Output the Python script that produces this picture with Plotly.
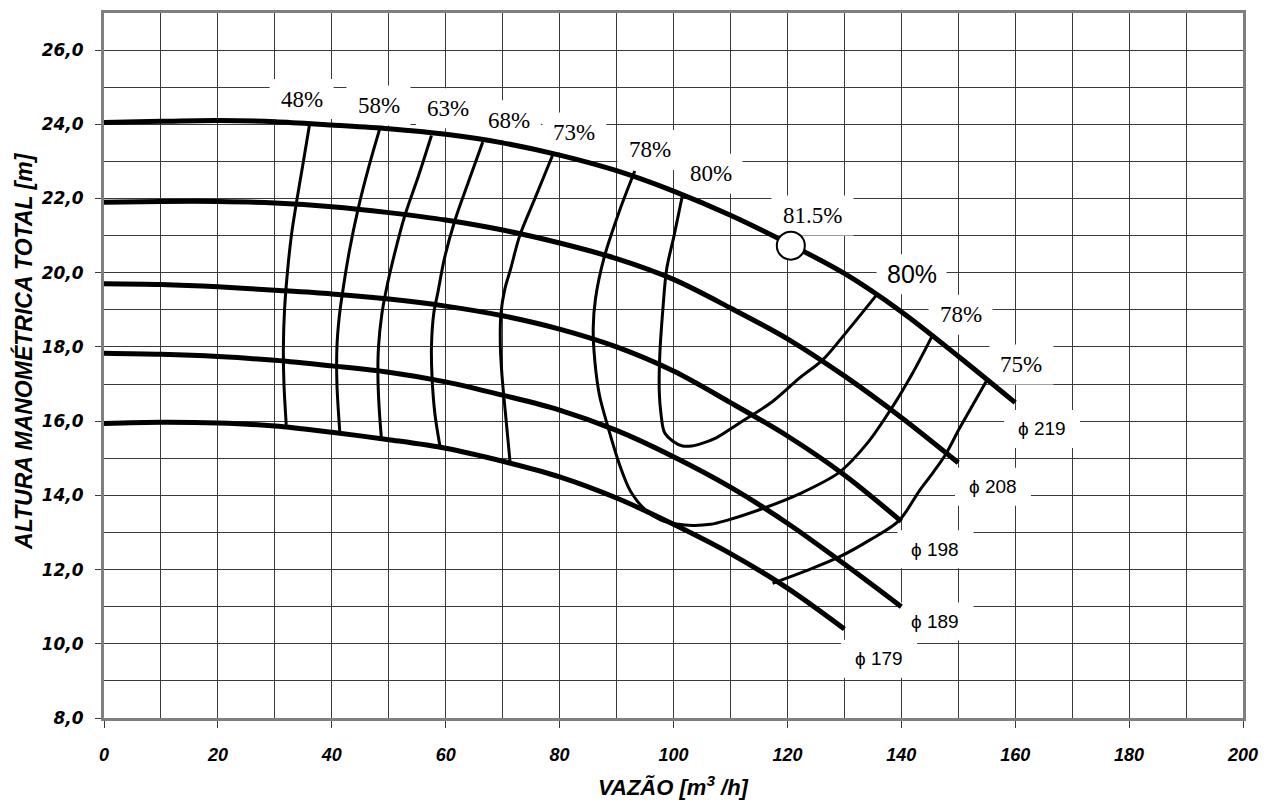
import plotly.graph_objects as go

# ---------------- data ----------------
# Head curves (impeller diameters)
flow_219 = [0, 10, 20, 30, 40, 50, 60, 70, 80, 90, 100, 110, 120, 130, 140, 150, 160]
head_219 = [24.05, 24.08, 24.1, 24.07, 23.98, 23.88, 23.73, 23.5, 23.17, 22.75, 22.2, 21.55, 20.8, 19.98, 18.95, 17.75, 16.5]

flow_208 = [0, 10, 20, 30, 40, 50, 60, 70, 80, 90, 100, 110, 120, 130, 140, 150]
head_208 = [21.9, 21.92, 21.92, 21.88, 21.78, 21.62, 21.42, 21.15, 20.8, 20.38, 19.82, 19.05, 18.22, 17.22, 16.1, 14.88]

flow_198 = [0, 10, 20, 30, 40, 50, 60, 70, 80, 90, 100, 110, 120, 130, 140]
head_198 = [19.7, 19.68, 19.62, 19.53, 19.43, 19.29, 19.1, 18.84, 18.48, 18.0, 17.35, 16.5, 15.6, 14.55, 13.3]

flow_189 = [0, 10, 20, 30, 40, 50, 60, 70, 80, 90, 100, 110, 120, 130, 140]
head_189 = [17.83, 17.8, 17.74, 17.64, 17.49, 17.32, 17.06, 16.7, 16.3, 15.75, 15.04, 14.22, 13.25, 12.15, 11.0]

flow_179 = [0, 10, 20, 30, 40, 50, 60, 70, 80, 90, 100, 110, 120, 130]
head_179 = [15.94, 15.97, 15.95, 15.87, 15.7, 15.5, 15.27, 14.92, 14.5, 13.93, 13.22, 12.43, 11.5, 10.4]

diameter_labels = ["ϕ 219", "ϕ 208", "ϕ 198", "ϕ 189", "ϕ 179"]
diameter_label_q = [164.7, 156.1, 146.0, 146.0, 136.1]
diameter_label_h = [15.79, 14.23, 12.55, 10.6, 9.6]

# Iso-efficiency curves
eff48_q = [36.1, 34.9, 33.8, 32.9, 32.2, 31.7, 31.5, 31.6, 32.0]
eff48_h = [24.0, 22.9, 21.9, 21.0, 20.0, 19.0, 18.0, 17.0, 15.9]

eff58_q = [48.4, 46.4, 44.6, 43.1, 41.9, 41.3, 40.9, 40.9, 41.4]
eff58_h = [23.87, 22.8, 21.71, 20.6, 19.48, 18.8, 18.0, 17.0, 15.72]

eff63_q = [57.5, 55.2, 52.8, 51.0, 49.6, 48.8, 48.2, 48.1, 48.3, 48.7]
eff63_h = [23.7, 22.6, 21.53, 20.5, 19.57, 18.9, 18.0, 17.2, 16.4, 15.55]

eff68_q = [66.5, 64.0, 61.6, 59.8, 58.6, 57.9, 57.5, 57.6, 58.1, 59.0]
eff68_h = [23.52, 22.45, 21.4, 20.4, 19.45, 18.9, 18.0, 17.2, 16.2, 15.32]

eff73_q = [78.8, 75.8, 73.0, 71.4, 70.4, 69.7, 69.6, 69.9, 70.5, 71.3]
eff73_h = [23.18, 22.05, 21.0, 20.1, 19.57, 18.9, 18.0, 17.2, 16.2, 14.9]

eff78_q = [93.2, 90.4, 87.8, 86.3, 85.9, 86.2, 87.0, 88.2, 90.5, 92.5, 95.2, 97.8, 100.5, 103.4,
           106.5, 109.2, 116.3, 122.1, 129.1, 134.0, 138.5, 142.0, 145.5]
eff78_h = [22.74, 21.62, 20.4, 19.3, 18.5, 17.6, 16.7, 16.0, 14.84, 14.1, 13.59, 13.33, 13.23, 13.19,
           13.22, 13.32, 13.68, 14.04, 14.62, 15.4, 16.4, 17.3, 18.32]

eff80_q = [101.6, 100.1, 98.8, 98.1, 97.6, 97.5, 97.8, 98.4, 99.9, 101.6, 103.2, 104.6, 107.5, 111.6,
           117.4, 122.1, 126.2, 130.9, 135.6]
eff80_h = [22.11, 21.0, 20.1, 18.95, 17.8, 16.8, 16.2, 15.7, 15.46, 15.33, 15.33, 15.38, 15.55, 15.95,
           16.53, 17.16, 17.65, 18.5, 19.39]

eff75_q = [154.9, 152.9, 150.2, 147.8, 145.5, 143.2, 139.6, 134.5, 129.1, 123.0, 117.4]
eff75_h = [17.07, 16.53, 15.8, 15.11, 14.6, 14.13, 13.32, 12.8, 12.34, 11.95, 11.63]

# Best efficiency point
bep_q = [120.6]
bep_h = [20.73]

# Efficiency labels (serif)
eff_label_text = ["48%", "58%", "63%", "68%", "73%", "78%", "80%", "81.5%", "78%", "75%"]
eff_label_q = [34.7, 48.2, 60.4, 71.1, 82.6, 95.8, 106.5, 124.4, 150.4, 161.1]
eff_label_h = [24.68, 24.51, 24.43, 24.11, 23.78, 23.31, 22.67, 21.54, 18.87, 17.53]

# Efficiency label (sans) on the right
eff_label2_text = ["80%"]
eff_label2_q = [141.8]
eff_label2_h = [19.96]

x_ticks = [0, 20, 40, 60, 80, 100, 120, 140, 160, 180, 200]
y_ticks = [8, 10, 12, 14, 16, 18, 20, 22, 24, 26]

# ---------------- figure ----------------
fig = go.Figure()

GRID = "#3a3a3a"
head_curves = [(flow_219, head_219), (flow_208, head_208), (flow_198, head_198),
               (flow_189, head_189), (flow_179, head_179)]
eff_curves = [(eff48_q, eff48_h), (eff58_q, eff58_h), (eff63_q, eff63_h), (eff68_q, eff68_h),
              (eff73_q, eff73_h), (eff78_q, eff78_h), (eff80_q, eff80_h), (eff75_q, eff75_h)]

for q, h in eff_curves:
    fig.add_trace(go.Scatter(x=q, y=h, mode="lines",
                             line=dict(color="black", width=3, shape="spline", smoothing=0.9),
                             showlegend=False, hoverinfo="skip"))
for q, h in head_curves:
    fig.add_trace(go.Scatter(x=q, y=h, mode="lines",
                             line=dict(color="black", width=5, shape="spline", smoothing=0.9),
                             showlegend=False, hoverinfo="skip"))

fig.add_trace(go.Scatter(x=bep_q, y=bep_h, mode="markers",
                         marker=dict(symbol="circle", size=28, color="white",
                                     line=dict(color="black", width=2)),
                         showlegend=False, hoverinfo="skip"))

shapes = []
annotations = []


def label(text, q, h, font, w, hgt):
    shapes.append(dict(type="rect", xref="x", yref="y", xsizemode="pixel", ysizemode="pixel",
                       xanchor=q, yanchor=h, x0=-w / 2, x1=w / 2, y0=-hgt / 2, y1=hgt / 2,
                       fillcolor="white", line=dict(width=0), layer="between"))
    annotations.append(dict(text=text, x=q, y=h, xref="x", yref="y", showarrow=False,
                            font=font, xanchor="center", yanchor="middle"))


serif = dict(family="Liberation Serif, Times New Roman, serif", size=23, color="black")
for t, q, h in zip(eff_label_text, eff_label_q, eff_label_h):
    w = 82 if t == "81.5%" else 64
    label(t, q, h, serif, w, 40)

sans_big = dict(family="Liberation Sans, Arial, sans-serif", size=25, color="black")
for t, q, h in zip(eff_label2_text, eff_label2_q, eff_label2_h):
    label(t, q, h, sans_big, 70, 40)

sans_d = dict(family="Liberation Sans, Arial, sans-serif", size=19, color="black")
for t, q, h in zip(diameter_labels, diameter_label_q, diameter_label_h):
    label(t, q, h, sans_d, 76, 38)

title_font = dict(family="Liberation Sans, Arial, sans-serif", size=22, color="black",
                  weight="bold", style="italic")
ytitle_font = dict(title_font, size=23)
annotations.append(dict(text="VAZÃO [m<sup>3</sup> /h]", xref="paper", yref="paper",
                        x=0.5, y=0, yshift=-68, xanchor="center", yanchor="middle",
                        showarrow=False, font=title_font))
annotations.append(dict(text="ALTURA MANOMÉTRICA TOTAL [m]", xref="paper", yref="paper",
                        x=0, xshift=-80.5, y=0.52, xanchor="center", yanchor="middle",
                        textangle=-90, showarrow=False, font=ytitle_font))

# the page body adds an 8 px margin, so the figure is sized to fit the window
fig.update_layout(
    width=1266, height=796,
    margin=dict(l=96, r=31, t=2, b=86),
    paper_bgcolor="white", plot_bgcolor="white",
    separators=",.",
    shapes=shapes, annotations=annotations,
    showlegend=False,
)

fig.update_xaxes(
    range=[0, 200], tickvals=x_ticks, tickformat="d",
    ticks="outside", ticklen=7, tickcolor=GRID, tickwidth=1,
    ticklabelstandoff=11,
    tickfont=dict(family="Liberation Sans, Arial, sans-serif", size=18, color="black",
                  weight="bold", style="italic"),
    showgrid=True, gridcolor=GRID, gridwidth=1,
    minor=dict(dtick=10, tick0=0, showgrid=True, gridcolor=GRID, gridwidth=1, ticks=""),
    showline=True, linecolor="#7f7f7f", linewidth=3, mirror=True,
    zeroline=False,
)
fig.update_yaxes(
    range=[8, 27], tickvals=y_ticks, tickformat=".1f",
    ticks="outside", ticklen=6, tickcolor=GRID, tickwidth=1,
    ticklabelstandoff=8,
    tickfont=dict(family="DejaVu Sans, sans-serif", size=17, color="black",
                  weight="bold", style="italic"),
    showgrid=True, gridcolor=GRID, gridwidth=1,
    minor=dict(dtick=1, tick0=0, showgrid=True, gridcolor=GRID, gridwidth=1, ticks=""),
    showline=True, linecolor="#7f7f7f", linewidth=3, mirror=True,
    zeroline=False,
)

fig.write_html("out.html")
